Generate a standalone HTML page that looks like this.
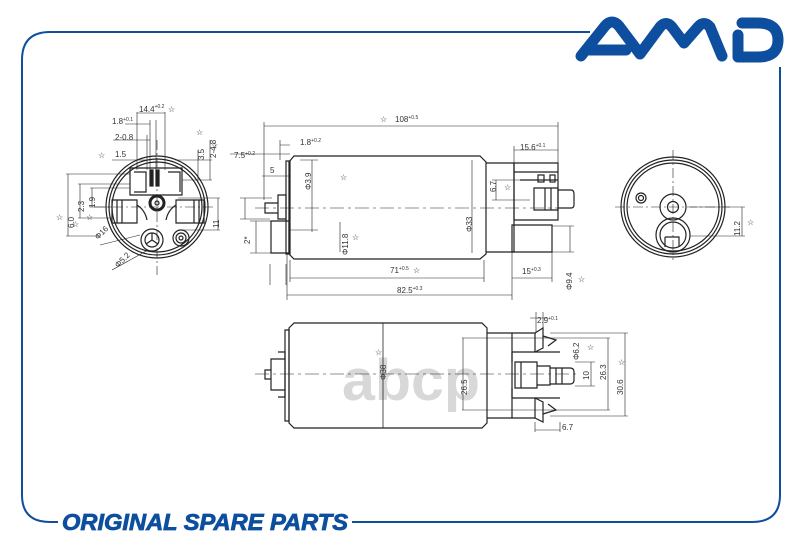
<!DOCTYPE html>
<html><head><meta charset="utf-8"><style>
html,body{margin:0;padding:0;background:#fff;}
svg{display:block;}
text{font-family:"Liberation Sans",sans-serif;}
.d{fill:#333;font-size:8px;font-family:"Liberation Sans Narrow","Liberation Sans",sans-serif;}
.s{fill:#222;font-size:8px;}
</style></head><body>
<svg width="800" height="545" viewBox="0 0 800 545" xmlns="http://www.w3.org/2000/svg">
<rect width="800" height="545" fill="#fff"/>
<!-- frame -->
<g fill="none" stroke="#0d4f9e" stroke-width="2">
<path d="M590 32 H50 Q22 32 22 60 V495 Q22 522 50 522 H58"/>
<path d="M352 522 H752 Q780 522 780 495 V67"/>
</g>
<!-- logo -->
<g fill="none" stroke="#0d4f9e" stroke-width="11" stroke-linecap="round" stroke-linejoin="round">
<path d="M581 56 L605 26 Q612 18 619 26 L640 54 L660 27 Q666 20 672 27 L684 43 L698 27 Q704 20 710 27 L722 56"/>
<path d="M590 50 H626"/>
<path d="M738 35 V57 H758 Q778 57 778 40 Q778 23 758 23 H742"/>
</g>
<text x="62" y="530" font-size="23" font-weight="bold" font-style="italic" fill="#0d4f9e" stroke="#0d4f9e" stroke-width="0.8" textLength="286" lengthAdjust="spacingAndGlyphs" style="font-family:'Liberation Sans Narrow','Liberation Sans',sans-serif">ORIGINAL SPARE PARTS</text>
<!-- watermark -->
<text x="342" y="400" font-size="58" font-weight="bold" fill="#c8c8c8" fill-opacity="0.7" textLength="138" lengthAdjust="spacingAndGlyphs">abcp</text>

<g fill="none" stroke="#222" stroke-width="1.2">
<!-- LEFT CIRCLE VIEW -->
<circle cx="157" cy="207" r="51"/>
<circle cx="157" cy="207" r="48"/>
<circle cx="157" cy="207" r="45"/>
<path d="M130 168 H182 V195 H130 Z M134 172 H146 V192 H134 M168 172 H180 V192"/>
<rect x="150" y="170" width="3" height="16" fill="#222"/>
<rect x="156" y="170" width="3" height="16" fill="#222"/>
<path d="M112 200 H137 V223 H112 Z M117 200 V223 M122 200 V223 M137 205 Q145 210 147 220"/>
<path d="M176 200 H204 V223 H176 Z M199 200 V223 M194 200 V223 M176 205 Q168 210 166 220"/>
<circle cx="157" cy="203" r="7" stroke-width="3"/>
<circle cx="157" cy="203" r="2"/>
<circle cx="152" cy="240" r="11"/><circle cx="152" cy="240" r="7"/>
<path d="M152 240 V233 M152 240 L146 244 M152 240 L158 244"/>
<circle cx="181" cy="238" r="8"/><circle cx="181" cy="238" r="5"/><circle cx="181" cy="238" r="2"/>
<path d="M157 140 V275" stroke-dasharray="10 3 2 3" stroke-width="0.6"/>
<path d="M95 207 H215" stroke-dasharray="10 3 2 3" stroke-width="0.6"/>
<!-- left dims -->
<g stroke-width="0.6">
<path d="M137 112 V170 M165 112 V170 M137 113 H165"/>
<path d="M125 124 H150 M150 120 V170 M156 120 V170"/>
<path d="M113 140 H150 M147 135 V170"/>
<path d="M112 160 H148"/>
<path d="M66 174 H130 M66 236 H100 M68 174 V236"/>
<path d="M78 184 H130 M78 218 H112 M80 184 V218"/>
<path d="M90 188 H130 M90 207 H112 M92 188 V207"/>
<path d="M175 160 H212 M198 150 V180 M182 180 H212 M210 140 V180"/>
<path d="M178 198 H220 M178 230 H220 M218 198 V230"/>
<path d="M100 245 L140 235 M112 270 L148 250"/>
</g>
<!-- SIDE VIEW -->
<path d="M294 156 H480 L486 162 V254 L480 259 H294 L289 254 V162 Z"/>
<path d="M286 161 H290 V254 H286 Z"/>
<path d="M278 195 H286 V219 H278 Z M265 203 H278 V213 H265 Z"/>
<path d="M271 221 H289 V253 H271 Z"/>
<path d="M486 163 H514 V252 H486"/>
<path d="M514 163 H558 V220 H514 Z M514 172 H558 M520 180 H558 V220"/>
<rect x="538" y="175" width="6" height="7"/><rect x="550" y="175" width="5" height="7"/>
<path d="M534 188 H558 V210 H534 Z M558 190 H571 Q574 190 574 194 V205 Q574 208 571 208 H558 M545 188 V210 M551 188 V210"/>
<path d="M512 225 H552 V252 H512 Z"/>
<path d="M255 208 H570" stroke-dasharray="14 4 3 4" stroke-width="0.6"/>
<g stroke-width="0.6">
<path d="M264 126 H558 M264 122 V200 M558 122 V185"/>
<path d="M287 300 V254 M512 300 V252 M287 295 H512"/>
<path d="M290 278 H484 M290 260 V282 M484 260 V282"/>
<path d="M512 278 H552 M552 252 V282"/>
<path d="M472 160 V253"/>
<path d="M230 154 H290 M258 154 H286 M280 145 H290 M280 140 V160"/>
<path d="M262 176 H290 M300 160 H318 M312 160 V232 M290 230 H318"/>
<path d="M240 198 H272 M240 219 H270 M245 198 V219"/>
<path d="M250 221 H272 M250 253 H272 M256 221 V253"/>
<path d="M340 222 V252 M270 264 V285 M286 264 V285"/>
<path d="M492 180 H530 M492 200 H530 M496 180 V200"/>
<path d="M514 150 H558 M514 146 V163"/>
<path d="M552 226 H574 M552 252 H574 M570 226 V252"/>
</g>
<!-- RIGHT CIRCLE -->
<ellipse cx="673" cy="207" rx="52" ry="50"/>
<ellipse cx="673" cy="207" rx="49" ry="47"/>
<ellipse cx="673" cy="207" rx="46" ry="44"/>
<circle cx="641" cy="198" r="5"/><circle cx="641" cy="198" r="2.5"/>
<circle cx="673" cy="207" r="13"/><circle cx="673" cy="207" r="5.5"/>
<circle cx="673" cy="235" r="17"/><circle cx="673" cy="235" r="13"/>
<path d="M665 237 H679 V246 M665 237 V247"/>
<path d="M673 150 V260 M615 207 H730" stroke-dasharray="10 3 2 3" stroke-width="0.6"/>
<path d="M690 207 H745 M690 236 H745 M742 207 V236" stroke-width="0.6"/>
<!-- BOTTOM VIEW -->
<path d="M294 323 H482 L487 328 V423 L482 428 H294 L289 423 V328 Z"/>
<path d="M285 330 H289 V421 H285 Z"/>
<path d="M271 359 H285 V390 H271 Z M265 370 H271 V379 H265 Z M278 352 H285 V397 H278"/>
<path d="M487 333 H512 V418 H487"/>
<path d="M512 333 H535 V352 H512 M512 352 V362 M512 398 H535 V418 H512 M512 388 V398"/>
<path d="M535 333 L543 328 V348 L535 352 M535 398 L543 402 V422 L535 418"/>
<path d="M543 336 L556 340 L548 346 M543 414 L556 410 L548 404"/>
<path d="M535 352 H560 M535 398 H560"/>
<path d="M515 362 H537 V388 H515 Z M521 362 V388"/>
<path d="M537 366 H550 V385 H537 M550 368 H570 Q574 368 574 372 V380 Q574 384 570 384 H550 M556 368 V384 M562 368 V384"/>
<path d="M255 374 H580" stroke-dasharray="14 4 3 4" stroke-width="0.6"/>
<path d="M383 323 V428" stroke-width="0.8"/>
<g stroke-width="0.6">
<path d="M463 338 V410 M462 338 H610 M462 410 H610 M608 338 V410"/>
<path d="M550 333 H628 M550 416 H628 M625 333 V416"/>
<path d="M575 362 H595 M575 386 H595 M591 362 V386"/>
<path d="M530 318 H548 M536 312 V333 M543 312 V333"/>
<path d="M535 422 V432 M560 422 V432 M535 430 H560"/>
</g>
</g>
<!-- labels -->
<g class="d">
<text x="139" y="112">14.4<tspan font-size="5" dy="-4">+0.2</tspan></text>
<text x="112" y="124">1.8<tspan font-size="5" dy="-3">+0.1</tspan></text>
<text x="115" y="140">2-0.8</text>
<text x="115" y="157">1.5</text>
<text x="395" y="122">108<tspan font-size="5" dy="-3">+0.5</tspan></text>
<text x="300" y="145">1.8<tspan font-size="5" dy="-3">+0.2</tspan></text>
<text x="234" y="158">7.5<tspan font-size="5" dy="-3">+0.2</tspan></text>
<text x="270" y="173">5</text>
<text x="520" y="150">15.6<tspan font-size="5" dy="-3">+0.1</tspan></text>
<text x="390" y="273">71<tspan font-size="5" dy="-3">+0.5</tspan></text>
<text x="397" y="293">82.5<tspan font-size="5" dy="-3">+0.3</tspan></text>
<text x="522" y="274">15<tspan font-size="5" dy="-3">+0.3</tspan></text>
<text x="537" y="323">2.9<tspan font-size="5" dy="-3">+0.1</tspan></text>
<text x="562" y="430">6.7</text>
<text transform="translate(472,232) rotate(-90)">Φ33</text>
<text transform="translate(311,190) rotate(-90)">Φ3.9</text>
<text transform="translate(348,255) rotate(-90)">Φ11.8</text>
<text transform="translate(496,192) rotate(-90)">6.7</text>
<text transform="translate(572,290) rotate(-90)">Φ9.4</text>
<text transform="translate(250,244) rotate(-90)">2*</text>
<text transform="translate(74,228) rotate(-90)">6.0</text>
<text transform="translate(84,212) rotate(-90)">2.3</text>
<text transform="translate(95,208) rotate(-90)">1.9</text>
<text transform="translate(204,160) rotate(-90)">3.5</text>
<text transform="translate(216,158) rotate(-90)">2-4.8</text>
<text transform="translate(219,228) rotate(-90)">11</text>
<text transform="translate(740,236) rotate(-90)">11.2</text>
<text transform="translate(386,380) rotate(-90)">Φ38</text>
<text transform="translate(467,395) rotate(-90)">26.5</text>
<text transform="translate(606,380) rotate(-90)">26.3</text>
<text transform="translate(623,395) rotate(-90)">30.6</text>
<text transform="translate(589,380) rotate(-90)">10</text>
<text transform="translate(579,360) rotate(-90)">Φ6.2</text>
<text transform="translate(98,240) rotate(-45)">Φ16</text>
<text transform="translate(118,268) rotate(-45)">Φ5.2</text>
</g>
<g class="s">
<text x="168" y="112">☆</text><text x="196" y="135">☆</text><text x="211" y="148">☆</text>
<text x="98" y="158">☆</text><text x="56" y="220">☆</text><text x="72" y="227">☆</text><text x="86" y="220">☆</text>
<text x="380" y="122">☆</text><text x="340" y="180">☆</text><text x="352" y="240">☆</text>
<text x="413" y="273">☆</text><text x="504" y="190">☆</text><text x="578" y="282">☆</text>
<text x="747" y="225">☆</text><text x="375" y="355">☆</text><text x="587" y="350">☆</text><text x="618" y="365">☆</text>
</g>
</svg>
</body></html>
